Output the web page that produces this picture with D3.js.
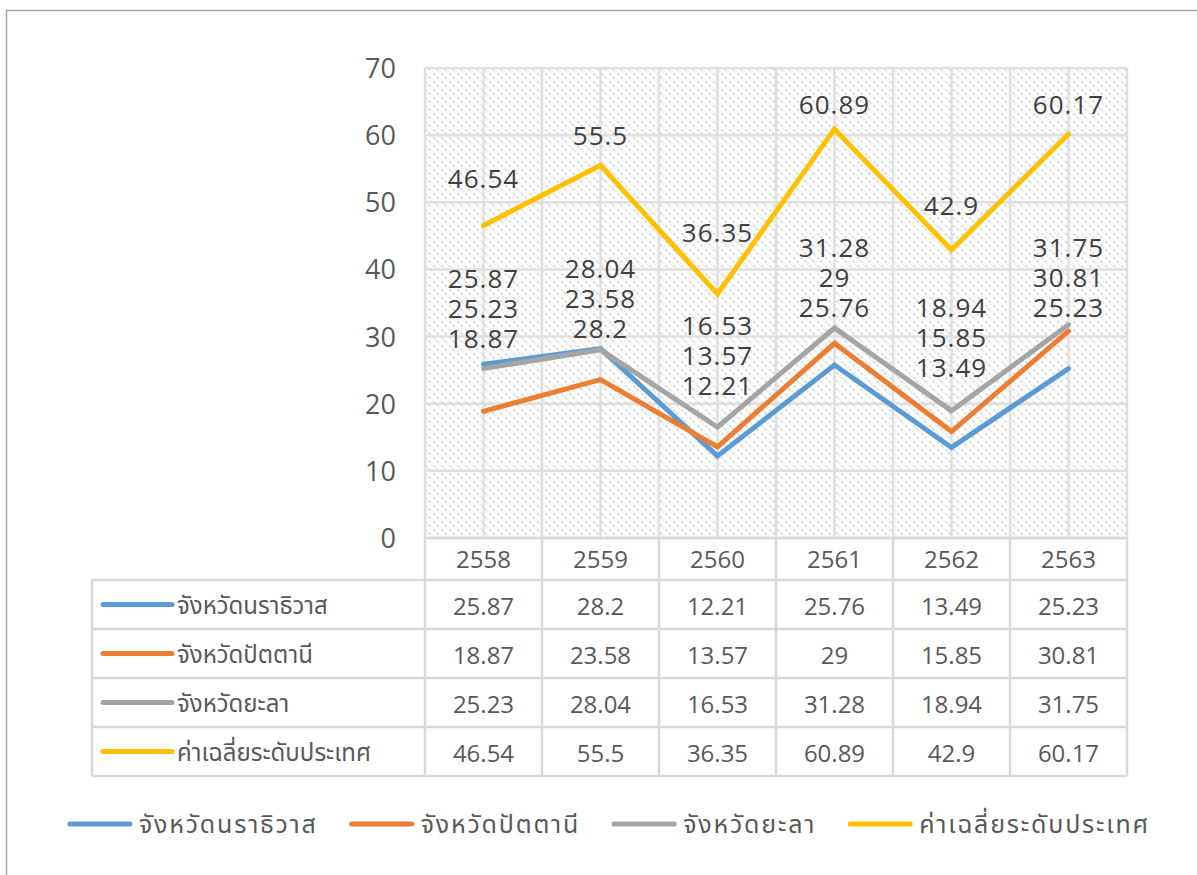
<!DOCTYPE html>
<html>
<head>
<meta charset="utf-8">
<script src="https://cdnjs.cloudflare.com/ajax/libs/d3/7.8.5/d3.min.js"></script>
<style>
    body { margin: 0; background: #fff; }
    svg { display: block; }
    .num { font-family: "Open Sans", "Noto Sans", sans-serif; }
    .thai { font-family: "Noto Sans Thai", "Noto Sans Thai UI", "Leelawadee UI", Tahoma, "Noto Sans", sans-serif; }
</style>
</head>
<body>
<svg id="chart" width="1197" height="875"></svg>
<script>
// data
const years = ["2558", "2559", "2560", "2561", "2562", "2563"]
const seriesNames = ["จังหวัดนราธิวาส", "จังหวัดปัตตานี", "จังหวัดยะลา", "ค่าเฉลี่ยระดับประเทศ"]
const narathiwat = [25.87, 28.2, 12.21, 25.76, 13.49, 25.23]
const pattani = [18.87, 23.58, 13.57, 29, 15.85, 30.81]
const yala = [25.23, 28.04, 16.53, 31.28, 18.94, 31.75]
const national = [46.54, 55.5, 36.35, 60.89, 42.9, 60.17]
const yTicks = [0, 10, 20, 30, 40, 50, 60, 70]

const colors = ["#5b9bd5", "#ed7d31", "#a5a5a5", "#ffc000"]
const series = [narathiwat, pattani, yala, national].map((values, i) => ({
    name: seriesNames[i],
    color: colors[i],
    values: values
}))

let svg = d3.select("#chart")

let plot = { left: 425, right: 1127, top: 68, bottom: 538 }
let table = { left: 92, headerTop: 538, rowTop: 580, rowH: 49 }

let xScale = d3.scaleBand()
    .domain(years)
    .range([plot.left, plot.right])
let xMid = d => xScale(d) + xScale.bandwidth() / 2

let yScale = d3.scaleLinear()
    .domain([0, 70])
    .range([plot.bottom, plot.top])

// outer frame (right and bottom edges fall outside the picture)
svg.append("rect")
    .attr("x", 6.5).attr("y", 10.5)
    .attr("width", 1250).attr("height", 950)
    .style("fill", "none")
    .style("stroke", "#a6a6a6")
    .style("stroke-width", 1.5)

// hatch fill of the plot area
let pat = svg.append("defs").append("pattern")
    .attr("id", "hatch")
    .attr("patternUnits", "userSpaceOnUse")
    .attr("width", 8).attr("height", 8)
pat.append("rect").attr("width", 8).attr("height", 8).style("fill", "#fff")
pat.append("path")
    .attr("d", "M-2,-2 L10,10 M-2,6 L2,10 M6,-2 L10,2")
    .style("stroke", "#d6d6d6")
    .style("stroke-width", 1.5)
    .style("stroke-dasharray", "3,1.5")

svg.append("rect")
    .attr("x", plot.left).attr("y", plot.top)
    .attr("width", plot.right - plot.left)
    .attr("height", plot.bottom - plot.top)
    .style("fill", "url(#hatch)")

// gridlines
let grid = svg.append("g")
    .style("stroke", "#e0e0e0")
    .style("stroke-width", 2.5)

grid.selectAll(".hgrid")
    .data(yTicks)
    .enter().append("line")
        .attr("x1", plot.left).attr("x2", plot.right)
        .attr("y1", d => yScale(d)).attr("y2", d => yScale(d))

let vLines = []
years.forEach(y => { vLines.push(xScale(y)); vLines.push(xMid(y)) })
vLines.push(plot.right)
grid.selectAll(".vgrid")
    .data(vLines)
    .enter().append("line")
        .attr("x1", d => d).attr("x2", d => d)
        .attr("y1", plot.top).attr("y2", plot.bottom)

// y axis labels
svg.append("g").selectAll("text")
    .data(yTicks)
    .enter().append("text")
        .attr("class", "num")
        .attr("x", 396)
        .attr("y", d => yScale(d) + 10)
        .attr("text-anchor", "end")
        .style("font-size", "27px")
        .style("fill", "#595959")
        .text(d => d)

// data table
let tableG = svg.append("g")
let tableBottom = table.rowTop + table.rowH * series.length
let border = sel => sel.style("stroke", "#d9d9d9").style("stroke-width", 2.5)

tableG.append("line")
    .attr("x1", plot.left).attr("x2", plot.right)
    .attr("y1", table.headerTop).attr("y2", table.headerTop)
    .call(border)
d3.range(series.length + 1).forEach(i => {
    tableG.append("line")
        .attr("x1", table.left).attr("x2", plot.right)
        .attr("y1", table.rowTop + i * table.rowH)
        .attr("y2", table.rowTop + i * table.rowH)
        .call(border)
})
tableG.append("line")
    .attr("x1", table.left).attr("x2", table.left)
    .attr("y1", table.rowTop).attr("y2", tableBottom)
    .call(border)
years.forEach(y => {
    tableG.append("line")
        .attr("x1", xScale(y)).attr("x2", xScale(y))
        .attr("y1", table.headerTop).attr("y2", tableBottom)
        .call(border)
})
tableG.append("line")
    .attr("x1", plot.right).attr("x2", plot.right)
    .attr("y1", table.headerTop).attr("y2", tableBottom)
    .call(border)

tableG.selectAll(".year")
    .data(years)
    .enter().append("text")
        .attr("class", "num")
        .attr("x", d => xMid(d))
        .attr("y", (table.headerTop + table.rowTop) / 2 + 9)
        .attr("text-anchor", "middle")
        .style("font-size", "24px")
        .style("fill", "#595959")
        .text(d => d)

series.forEach((s, i) => {
    let cy = table.rowTop + i * table.rowH + table.rowH / 2
    tableG.append("line")
        .attr("x1", 103).attr("x2", 172)
        .attr("y1", cy).attr("y2", cy)
        .style("stroke", s.color)
        .style("stroke-width", 5)
        .style("stroke-linecap", "round")
    tableG.append("text")
        .attr("class", "thai")
        .attr("x", 177)
        .attr("y", cy + 9)
        .style("font-size", "24px")
        .style("fill", "#595959")
        .text(s.name)
    tableG.selectAll(".v" + i)
        .data(s.values)
        .enter().append("text")
            .attr("class", "num")
            .attr("x", (d, j) => xMid(years[j]))
            .attr("y", cy + 10)
            .attr("text-anchor", "middle")
            .style("font-size", "24px")
            .style("fill", "#595959")
            .text(d => d)
})

// lines
let line = d3.line()
    .x((d, j) => xMid(years[j]))
    .y(d => yScale(d))

svg.append("g").selectAll("path")
    .data(series)
    .enter().append("path")
        .attr("d", d => line(d.values))
        .style("fill", "none")
        .style("stroke", d => d.color)
        .style("stroke-width", 5)
        .style("stroke-linejoin", "miter")
        .style("stroke-linecap", "round")

// data labels: national above its point, the three provinces stacked
let labelStyle = sel => sel
    .attr("class", "num")
    .attr("text-anchor", "middle")
    .style("font-size", "26px")
    .style("letter-spacing", "1px")
    .style("fill", "#404040")

let nationalLift = [38, 20, 52, 15, 35, 20]
let stackLift = [16, 11, 32, 11, 34, 8]
let stackOrder = [[0, 2, 1], [2, 1, 0], [2, 1, 0], [2, 1, 0], [2, 1, 0], [2, 1, 0]]
let lineGap = 30

let labels = svg.append("g")
years.forEach((y, j) => {
    labels.append("text")
        .call(labelStyle)
        .attr("x", xMid(y))
        .attr("y", yScale(national[j]) - nationalLift[j])
        .text(national[j])

    let top3 = d3.max([0, 1, 2], k => series[k].values[j])
    let base = yScale(top3) - stackLift[j]
    stackOrder[j].forEach((k, n) => {
        labels.append("text")
            .call(labelStyle)
            .attr("x", xMid(y))
            .attr("y", base - (2 - n) * lineGap)
            .text(series[k].values[j])
    })
})

// bottom legend
let legend = svg.append("g")
let lx = 0
series.forEach((s, i) => {
    let item = legend.append("g").attr("transform", "translate(" + lx + ",0)")
    item.append("line")
        .attr("x1", 2).attr("x2", 62)
        .attr("y1", 0).attr("y2", 0)
        .style("stroke", s.color)
        .style("stroke-width", 5)
        .style("stroke-linecap", "round")
    let t = item.append("text")
        .attr("class", "thai")
        .attr("x", 71)
        .attr("y", 9)
        .style("font-size", "25px")
        .style("letter-spacing", "1.8px")
        .style("fill", "#595959")
        .text(s.name)
    lx += 71 + t.node().getComputedTextLength() + 32
})
let legendW = lx - 32
legend.attr("transform", "translate(" + (609 - legendW / 2) + ",824)")
</script>
</body>
</html>
